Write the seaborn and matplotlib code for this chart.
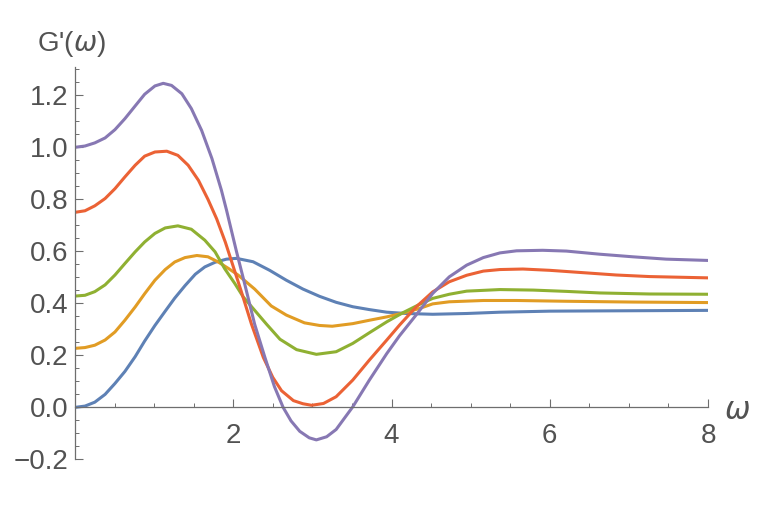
import matplotlib
matplotlib.use("Agg")
import matplotlib.pyplot as plt
from matplotlib.ticker import MultipleLocator, FixedLocator, FuncFormatter
import seaborn as sns
import pandas as pd

# curves, one (omega, G') list pair per series
omega_1 = [0.00, 0.126, 0.25, 0.38, 0.505, 0.63, 0.76, 0.88, 1.01, 1.14, 1.26, 1.39, 1.52, 1.64, 1.77, 1.915,
           2.04, 2.25, 2.46, 2.67, 2.88, 3.09, 3.30, 3.51, 3.72, 3.94, 4.19, 4.52, 4.95, 5.37, 6.00, 6.63, 8.00]
g_1 = [0.000, 0.005, 0.020, 0.050, 0.092, 0.138, 0.195, 0.255, 0.315, 0.370, 0.420, 0.468, 0.512, 0.540, 0.558, 0.570,
       0.573, 0.560, 0.527, 0.489, 0.455, 0.427, 0.404, 0.387, 0.376, 0.366, 0.361, 0.358, 0.361, 0.366, 0.370, 0.371, 0.373]

omega_2 = [0.00, 0.126, 0.25, 0.38, 0.505, 0.63, 0.76, 0.88, 1.01, 1.14, 1.26, 1.39, 1.54, 1.68, 1.81, 1.94, 2.06,
           2.27, 2.48, 2.67, 2.90, 3.09, 3.25, 3.51, 3.72, 3.94, 4.15, 4.36, 4.52, 4.73, 5.16, 5.58, 6.21, 7.05, 8.00]
g_2 = [0.227, 0.230, 0.239, 0.259, 0.290, 0.335, 0.386, 0.437, 0.489, 0.530, 0.559, 0.576, 0.584, 0.579, 0.559, 0.534, 0.509,
       0.455, 0.390, 0.355, 0.325, 0.315, 0.312, 0.322, 0.335, 0.348, 0.363, 0.381, 0.398, 0.406, 0.411, 0.411, 0.408, 0.405, 0.403]

omega_3 = [0.00, 0.126, 0.25, 0.38, 0.505, 0.63, 0.76, 0.88, 1.01, 1.14, 1.30, 1.47, 1.64, 1.77, 1.89, 2.02, 2.125,
           2.42, 2.59, 2.80, 3.05, 3.30, 3.51, 3.72, 3.94, 4.15, 4.36, 4.52, 4.73, 4.95, 5.37, 5.79, 6.21, 6.63, 7.26, 8.00]
g_3 = [0.428, 0.431, 0.445, 0.471, 0.509, 0.553, 0.598, 0.636, 0.669, 0.690, 0.698, 0.685, 0.643, 0.598, 0.534, 0.476, 0.425,
       0.320, 0.262, 0.222, 0.204, 0.214, 0.246, 0.287, 0.329, 0.365, 0.397, 0.419, 0.435, 0.447, 0.453, 0.451, 0.446, 0.440, 0.436, 0.435]

omega_4 = [0.00, 0.126, 0.25, 0.38, 0.505, 0.63, 0.76, 0.88, 1.01, 1.16, 1.30, 1.43, 1.56, 1.68, 1.79, 1.90, 1.98, 2.10, 2.23,
           2.38, 2.50, 2.61, 2.76, 2.88, 2.99, 3.14, 3.30, 3.51, 3.72, 3.94, 4.10, 4.31, 4.52, 4.73, 4.95, 5.16, 5.37,
           5.66, 6.00, 6.42, 6.84, 7.26, 8.00]
g_4 = [0.750, 0.756, 0.775, 0.803, 0.841, 0.886, 0.931, 0.966, 0.982, 0.985, 0.969, 0.931, 0.873, 0.800, 0.725, 0.635, 0.560, 0.447,
       0.320, 0.192, 0.115, 0.064, 0.026, 0.014, 0.008, 0.015, 0.041, 0.105, 0.182, 0.259, 0.316, 0.386, 0.444, 0.483, 0.508, 0.524,
       0.530, 0.532, 0.527, 0.518, 0.509, 0.503, 0.498]

omega_5 = [0.00, 0.126, 0.25, 0.38, 0.505, 0.63, 0.76, 0.88, 1.01, 1.115, 1.22, 1.35, 1.47, 1.60, 1.73, 1.85, 1.915, 2.04,
           2.14, 2.27, 2.40, 2.52, 2.63, 2.73, 2.84, 2.96, 3.05, 3.18, 3.30, 3.51, 3.72, 3.94, 4.10, 4.31, 4.52, 4.73,
           4.95, 5.16, 5.37, 5.58, 5.91, 6.21, 6.63, 7.05, 7.47, 8.00]
g_5 = [1.000, 1.005, 1.017, 1.036, 1.068, 1.110, 1.159, 1.204, 1.236, 1.246, 1.238, 1.206, 1.149, 1.065, 0.957, 0.835, 0.758, 0.600,
       0.480, 0.320, 0.192, 0.080, 0.000, -0.052, -0.092, -0.117, -0.125, -0.113, -0.085, 0.002, 0.105, 0.207, 0.275, 0.355, 0.438, 0.502,
       0.547, 0.576, 0.594, 0.602, 0.604, 0.601, 0.589, 0.579, 0.570, 0.565]

series_colors = ["#5E81B5", "#E19C24", "#8FB032", "#EB6235", "#8778B3"]
y_ticks = [-0.2, 0.0, 0.2, 0.4, 0.6, 0.8, 1.0, 1.2]
x_ticks = [2, 4, 6, 8]

sns.set_style("white")
plt.rcParams["font.family"] = ["Liberation Sans", "DejaVu Sans"]
plt.rcParams["mathtext.fontset"] = "dejavusans"

frames = []
for i, (w, g) in enumerate([(omega_1, g_1), (omega_2, g_2), (omega_3, g_3), (omega_4, g_4), (omega_5, g_5)]):
    frames.append(pd.DataFrame({"omega": w, "G": g, "series": i}))
df = pd.concat(frames, ignore_index=True)

axis_gray = "#6e6e6e"
text_gray = "#525252"

fig = plt.figure(figsize=(7.75, 5.13), dpi=100)
ax = fig.add_axes([0.0968, 0.1045, 0.8168, 0.7655])

sns.lineplot(data=df, x="omega", y="G", hue="series", palette=series_colors,
             estimator=None, sort=False, legend=False, linewidth=2.2, ax=ax)
for line in ax.lines:
    line.set_solid_joinstyle("round")

ax.set_xlim(0, 8)
ax.set_ylim(-0.2, 1.31)
ax.set_xlabel("")
ax.set_ylabel("")

for side in ["top", "right"]:
    ax.spines[side].set_visible(False)
ax.spines["left"].set_position(("data", 0))
ax.spines["bottom"].set_position(("data", 0))
for side in ["left", "bottom"]:
    ax.spines[side].set_color(axis_gray)
    ax.spines[side].set_linewidth(0.9)

ax.xaxis.set_major_locator(FixedLocator(x_ticks))
ax.xaxis.set_minor_locator(MultipleLocator(0.5))
ax.yaxis.set_major_locator(FixedLocator(y_ticks))
ax.yaxis.set_minor_locator(MultipleLocator(0.05))
ax.yaxis.set_major_formatter(FuncFormatter(lambda v, p: f"{v:.1f}".replace("-", "\u2212")))

ax.tick_params(which="both", bottom=True, left=True, top=False, right=False)
ax.tick_params(which="major", direction="in", length=5.5, width=0.8, color=axis_gray,
               labelsize=20, labelcolor=text_gray)
ax.tick_params(which="minor", direction="in", length=3, width=0.7, color=axis_gray)
ax.tick_params(axis="x", which="major", pad=11)
ax.tick_params(axis="y", which="major", pad=5)

fig.text(37 / 775, 1 - 44 / 513, r"G'($\omega$)", fontsize=20, color=text_gray, va="center", ha="left")
fig.text(737 / 775, 1 - 411 / 513, r"$\omega$", fontsize=22, color=text_gray, va="center", ha="center")

fig.savefig("out.png", dpi=100)
